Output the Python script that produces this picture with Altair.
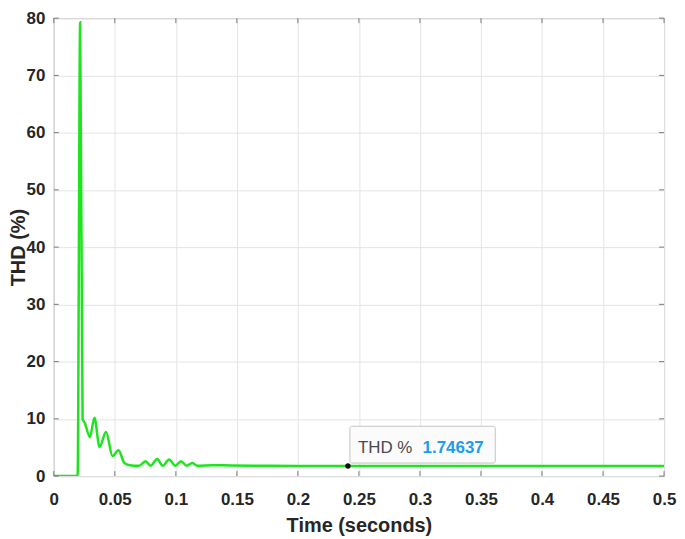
import altair as alt
import pandas as pd

# THD (%) versus time (s)
time_s = [0.0, 0.0195, 0.0216, 0.0236, 0.0252, 0.0296, 0.0333, 0.0375, 0.0428,
          0.0481, 0.0530, 0.0578, 0.0620, 0.0698, 0.0752, 0.0793, 0.0847, 0.0893,
          0.0945, 0.0996, 0.1042, 0.1090, 0.1135, 0.1175, 0.1300, 0.1450, 0.2000,
          0.2410, 0.5000]
thd_pct = [0.0, 0.0, 79.3, 9.9, 9.4, 6.8, 10.2, 5.1, 7.7,
           3.5, 4.5, 2.3, 1.9, 1.8, 2.6, 1.8, 3.0, 1.8,
           2.9, 1.8, 2.6, 1.8, 2.3, 1.8, 1.9, 1.85, 1.78,
           1.746, 1.746]

x_ticks = [0, 0.05, 0.1, 0.15, 0.2, 0.25, 0.3, 0.35, 0.4, 0.45, 0.5]
y_ticks = [0, 10, 20, 30, 40, 50, 60, 70, 80]

tip_time = [0.241]
tip_value = [1.74637]
tip_label = ["THD %"]
tip_text = ["1.74637"]

W, H = 613, 460
FONT = "Liberation Sans"

df = pd.DataFrame({"t": time_s, "v": thd_pct})
xt = pd.DataFrame({"t": x_ticks})
yt = pd.DataFrame({"v": y_ticks})
tip = pd.DataFrame({"t": tip_time, "v": tip_value, "label": tip_label, "val": tip_text})

xs = alt.Scale(domain=[0, 0.5], nice=False, zero=False)
ys = alt.Scale(domain=[0, 80], nice=False)

x_axis = alt.Axis(values=x_ticks, format="~g", title="Time (seconds)",
                  labelPadding=29, labelBaseline="alphabetic", labelFlush=False,
                  titleX=W / 2, titleY=56, titleBaseline="alphabetic",
                  titleAlign="center")
y_axis = alt.Axis(values=y_ticks, title="THD (%)", labelPadding=9, labelFlush=False,
                  titleX=-35, titleY=H / 2, titleAngle=270,
                  titleBaseline="middle", titleAlign="center")

X = alt.X("t:Q", scale=xs, axis=x_axis)
Y = alt.Y("v:Q", scale=ys, axis=y_axis)

line = alt.Chart(df).mark_line(color="#1ee41e", strokeWidth=2.5, clip=True,
                               interpolate="monotone").encode(x=X, y=Y)

tick_color = "#7a7a7a"
xb = alt.Chart(xt).mark_rule(color=tick_color).encode(
    x=X, y=alt.value(H), y2=alt.value(H - 5))
xtp = alt.Chart(xt).mark_rule(color=tick_color).encode(
    x=X, y=alt.value(0), y2=alt.value(5))
yl = alt.Chart(yt).mark_rule(color=tick_color).encode(
    y=Y, x=alt.value(0), x2=alt.value(5))
yr = alt.Chart(yt).mark_rule(color=tick_color).encode(
    y=Y, x=alt.value(W), x2=alt.value(W - 5))

box = alt.Chart(tip).mark_rect(
    fill="#fbfbfb", stroke="#c4c4c4", strokeWidth=1, cornerRadius=2,
    xOffset=2, x2Offset=148, yOffset=-40, y2Offset=-3,
).encode(x=X, x2="t", y=Y, y2="v")

marker = alt.Chart(tip).mark_circle(color="#111111", size=30, opacity=1).encode(
    x=X, y=Y)

lab = alt.Chart(tip).mark_text(
    align="left", baseline="alphabetic", dx=10, dy=-13, fontSize=17,
    font=FONT, color="#4a4a4a",
).encode(x=X, y=Y, text="label:N")

val = alt.Chart(tip).mark_text(
    align="left", baseline="alphabetic", dx=75, dy=-13, fontSize=17,
    font=FONT, fontWeight="bold", color="#1e9bf0",
).encode(x=X, y=Y, text="val:N")

chart = alt.layer(line, xb, xtp, yl, yr, box, marker, lab, val).properties(
    width=W, height=H,
    autosize=alt.AutoSizeParams(type="none"),
    padding={"left": 46, "top": 9, "right": 13, "bottom": 60},
).configure_view(
    stroke="#8a8a8a", strokeWidth=1,
).configure_axis(
    grid=True, gridColor="#e4e4e4", gridWidth=1,
    domain=False, ticks=False,
    labelFont=FONT, labelFontWeight="bold", labelFontSize=17, labelColor="#262626",
    titleFont=FONT, titleFontWeight="bold", titleFontSize=20, titleColor="#262626",
)

chart.save("out.html", embed_options={"renderer": "svg", "actions": False})
